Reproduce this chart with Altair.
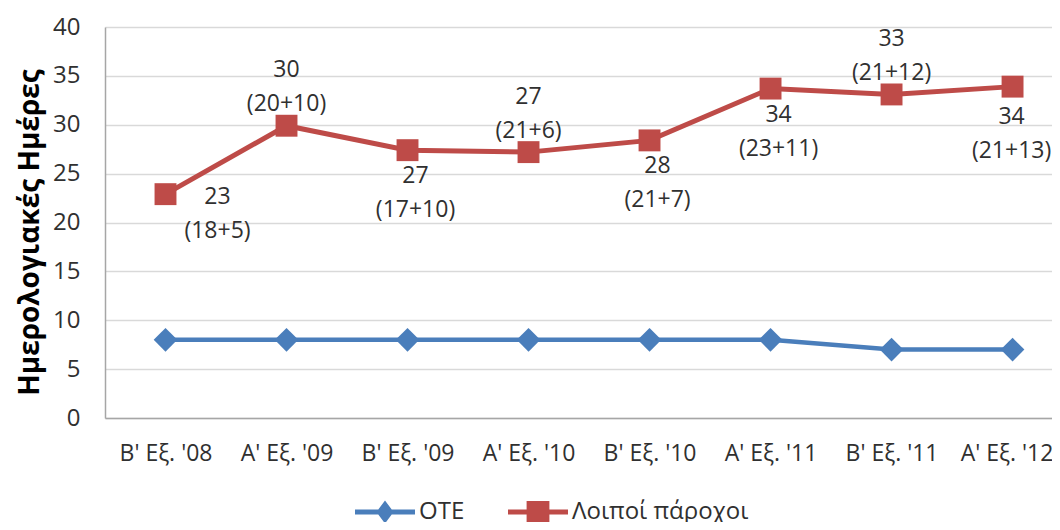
import json
import altair as alt
import pandas as pd

categories = ["Β' Εξ. '08", "Α' Εξ. '09", "Β' Εξ. '09", "Α' Εξ. '10",
              "Β' Εξ. '10", "Α' Εξ. '11", "Β' Εξ. '11", "Α' Εξ. '12"]
ote_values = [8, 8, 8, 8, 8, 8, 7, 7]
other_values = [22.9, 29.9, 27.4, 27.2, 28.4, 33.7, 33.1, 33.9]
other_totals = ["23", "30", "27", "27", "28", "34", "33", "34"]
other_breakdown = ["(18+5)", "(20+10)", "(17+10)", "(21+6)", "(21+7)", "(23+11)", "(21+12)", "(21+13)"]
label_place = ["right", "above", "below", "above", "below", "below", "above", "below_edge"]

series_names = ["ΟΤΕ", "Λοιποί πάροχοι"]
BLUE = "#4A7EBB"
RED = "#BE4B48"
FONT = "Open Sans"
TXT = "#303030"

rows = []
for i, c in enumerate(categories):
    rows.append({"idx": i, "cat": c, "series": series_names[0], "value": ote_values[i],
                 "total": "", "breakdown": "", "place": ""})
    rows.append({"idx": i, "cat": c, "series": series_names[1], "value": other_values[i],
                 "total": other_totals[i], "breakdown": other_breakdown[i], "place": label_place[i]})
df = pd.DataFrame(rows)

label_expr = json.dumps(categories) + "[datum.value]"

x = alt.X("idx:Q",
          scale=alt.Scale(domain=[-0.5, 7.326], nice=False, zero=False),
          axis=alt.Axis(values=list(range(len(categories))), labelExpr=label_expr,
                        title=None, grid=False, ticks=False, tickSize=0,
                        labelFont=FONT, labelFontSize=23, labelColor=TXT,
                        labelPadding=24, labelBaseline="top", labelOverlap=False,
                        labelBound=False, labelFlush=False,
                        labelOffset={"condition": {"test": "datum.value == 7", "value": -6},
                                     "value": 0},
                        domainColor="#A6A6A6", domainWidth=1.5))
y = alt.Y("value:Q",
          scale=alt.Scale(domain=[0, 40], nice=False),
          axis=alt.Axis(values=list(range(0, 41, 5)), title="Ημερολογιακές Ημέρες",
                        titleFont=FONT, titleFontSize=28, titleFontWeight="bold",
                        titleColor="#000000", titleX=-75, titleY=205,
                        titleAlign="center", titleBaseline="middle", titleAngle=-90,
                        grid=True, gridColor="#D9D9D9", gridWidth=1.5,
                        ticks=False, tickSize=0, labelPadding=25,
                        labelFont=FONT, labelFontSize=24, labelColor=TXT,
                        domainColor="#A6A6A6", domainWidth=1.5))

base = alt.Chart(df).encode(x=x, y=y)

ote = base.transform_filter(alt.datum.series == series_names[0])
oth = base.transform_filter(alt.datum.series == series_names[1])

ote_line = ote.mark_line(color=BLUE, strokeWidth=4.5)
ote_pts = ote.mark_point(shape="diamond", filled=True, size=560, color=BLUE, opacity=1)
oth_line = oth.mark_line(color=RED, strokeWidth=5)
oth_pts = oth.mark_square(size=480, color=RED, opacity=1)

offsets = {"above": (0, -38.5), "below": (8, 43), "below_edge": (-1, 47), "right": (52, 19.5)}
text_layers = []
for place, (ddx, ddy) in offsets.items():
    sub = oth.transform_filter(alt.datum.place == place)
    text_layers.append(sub.mark_text(font=FONT, fontSize=23, color=TXT, baseline="middle",
                                     align="center", dx=ddx, dy=ddy - 17).encode(text="total:N"))
    text_layers.append(sub.mark_text(font=FONT, fontSize=23, color=TXT, baseline="middle",
                                     align="center", dx=ddx, dy=ddy + 17).encode(text="breakdown:N"))

diamond_path = ("M-1,-0.08L-0.224,-0.08L0,-0.383L0.224,-0.08L1,-0.08L1,0.08L0.224,0.08"
                "L0,0.383L-0.224,0.08L-1,0.08Z")
square_path = ("M-1,-0.08L-0.38,-0.08L-0.38,-0.37L0.38,-0.37L0.38,-0.08L1,-0.08L1,0.08"
               "L0.38,0.08L0.38,0.37L-0.38,0.37L-0.38,0.08L-1,0.08Z")

leg = alt.Legend(title=None, orient="none", direction="horizontal",
                 legendX=250, legendY=455, labelLimit=400,
                 labelFont=FONT, labelFontSize=24, labelColor=TXT, symbolSize=3600,
                 symbolStrokeWidth=0, labelOffset=4, columnPadding=43, symbolOpacity=1)

legend_layer = base.transform_filter("false").mark_point(filled=True, opacity=1).encode(
    color=alt.Color("series:N", scale=alt.Scale(domain=series_names, range=[BLUE, RED]),
                    legend=leg),
    shape=alt.Shape("series:N", scale=alt.Scale(domain=series_names,
                                                range=[diamond_path, square_path]),
                    legend=leg),
)

chart = alt.layer(ote_line, oth_line, ote_pts, oth_pts, *text_layers, legend_layer).properties(
    width=947, height=391,
    autosize=alt.AutoSizeParams(type="none"),
    padding={"left": 97, "top": 19, "right": 0, "bottom": 104},
    background="white",
).configure_view(stroke=None)

chart.save("out.html", embed_options={"renderer": "svg", "actions": False})
